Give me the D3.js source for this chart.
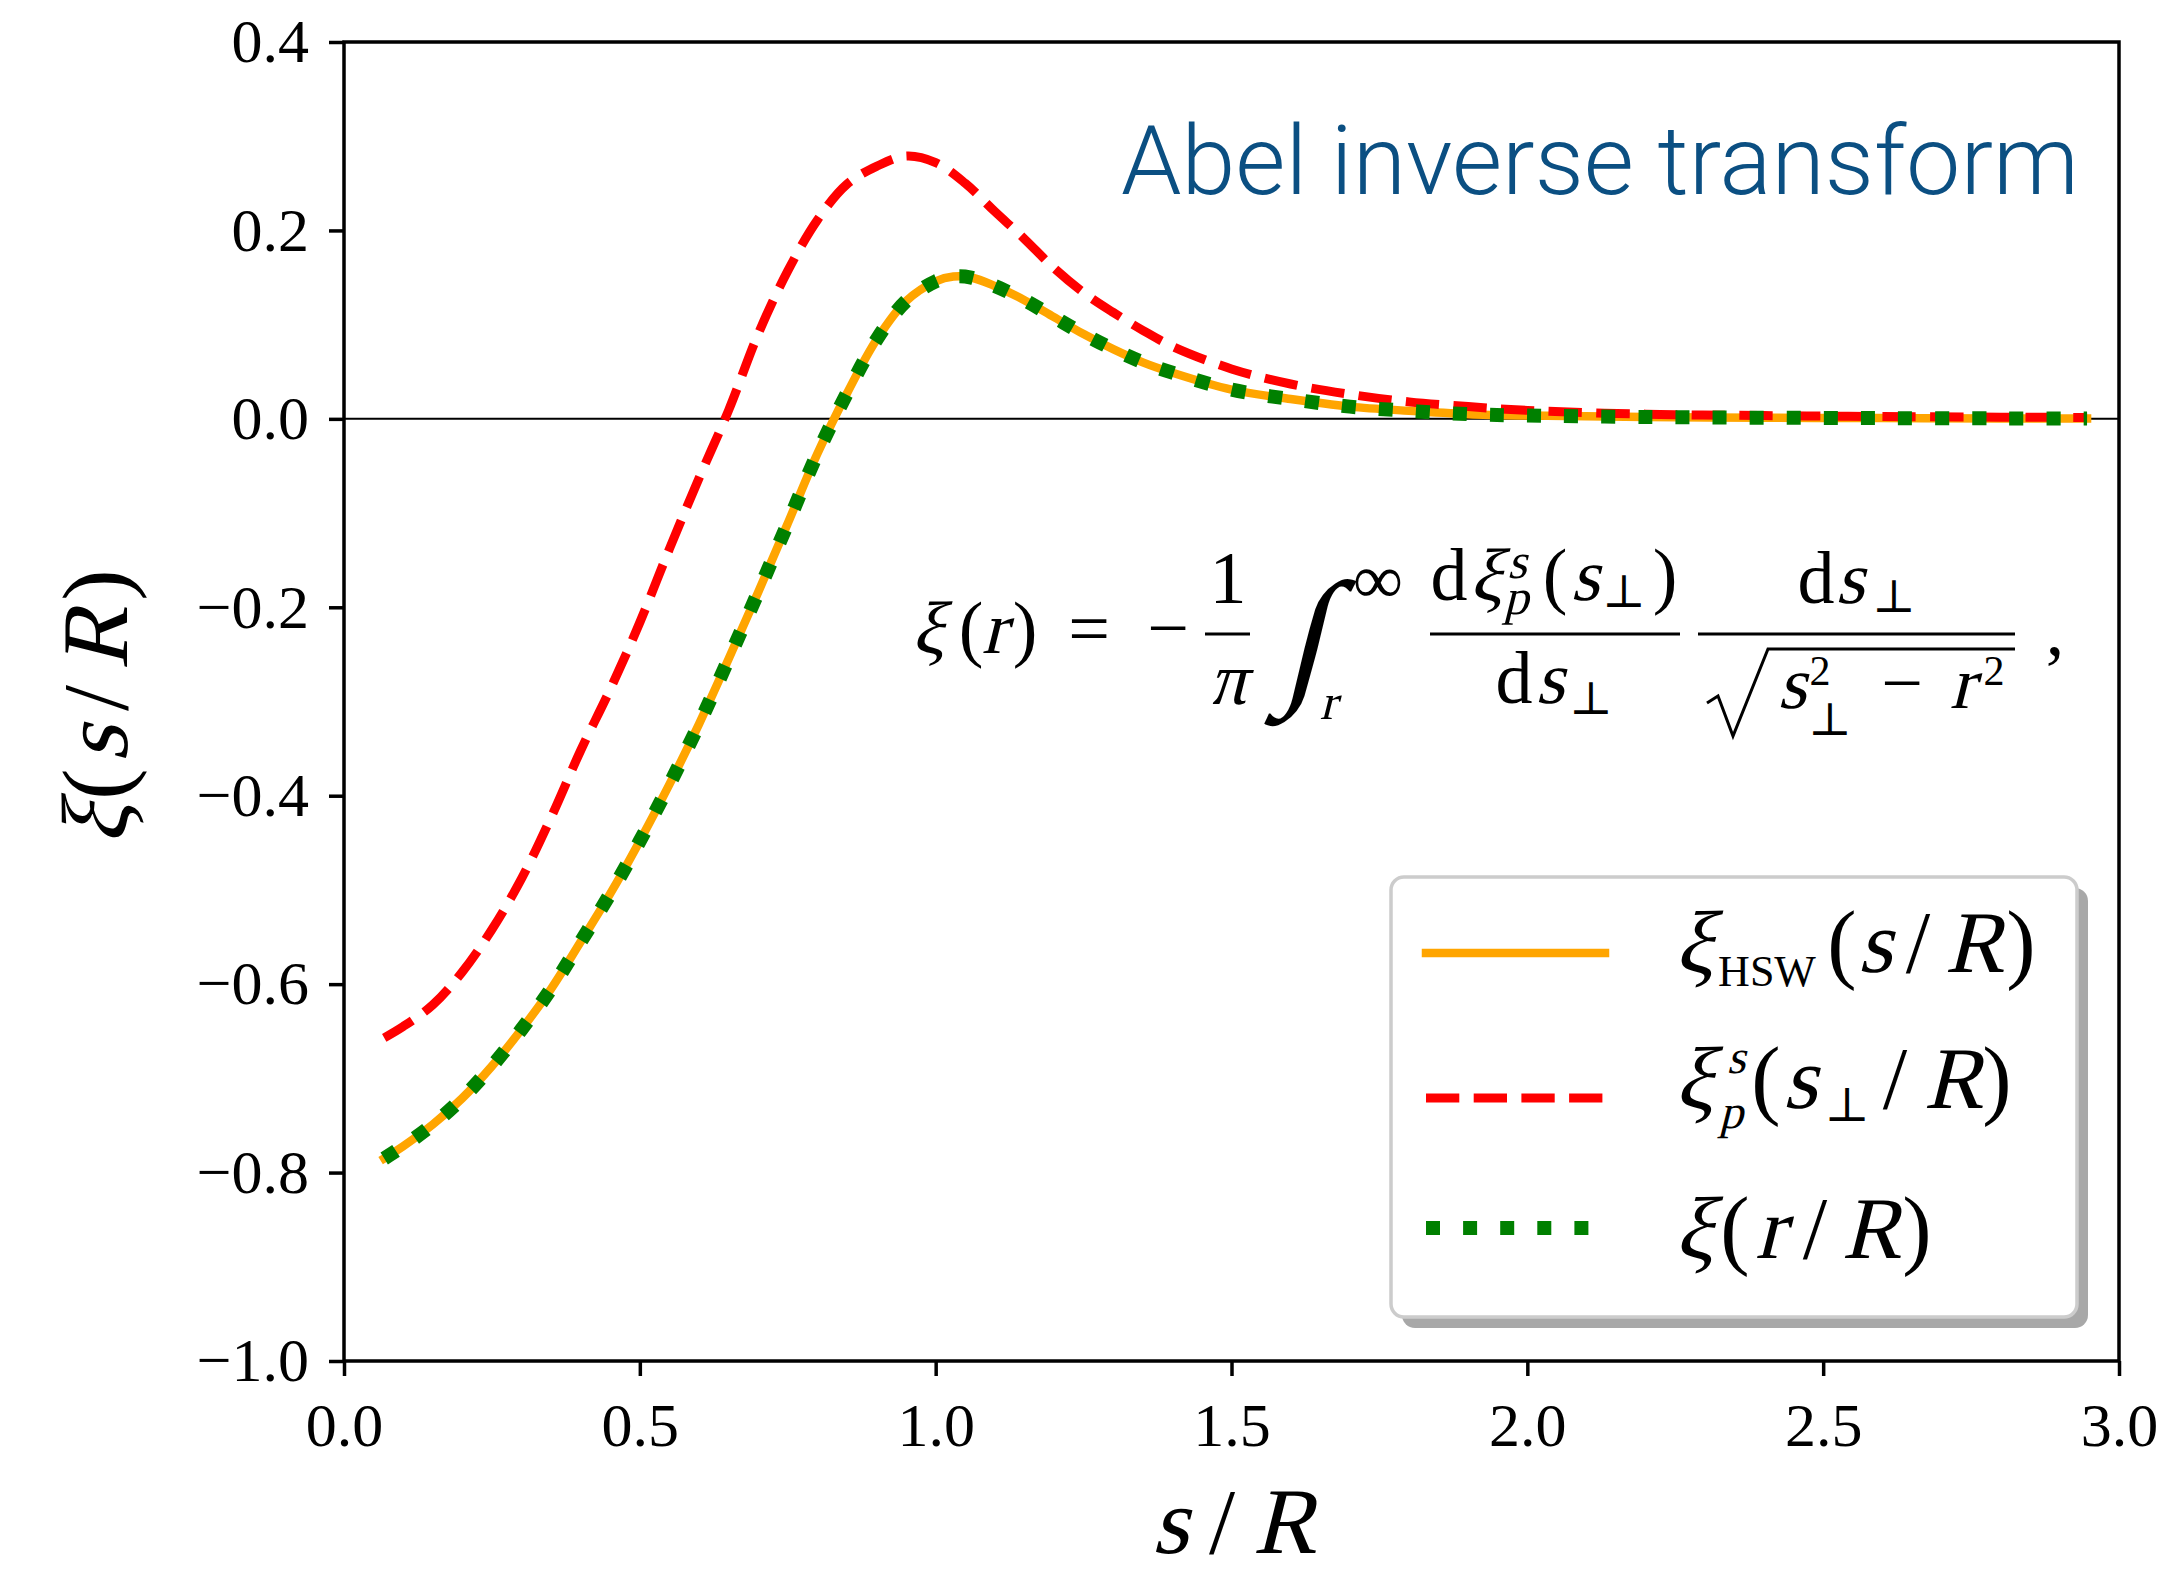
<!DOCTYPE html>
<html>
<head>
<meta charset="utf-8">
<script src="https://cdn.jsdelivr.net/npm/d3@7"></script>
<style>
  body { margin: 0; background: #fff; }
  svg { display: block; }
  .math text { font-family: "Liberation Serif", "DejaVu Serif", serif; fill: #000; text-anchor: middle; }
  .tick text { font-family: "Liberation Serif", serif; font-size: 62px; fill: #000; }
</style>
</head>
<body>
<script>
// xi_HSW(s/R)
const sHSW = [0.068, 0.10, 0.15, 0.20, 0.25, 0.30, 0.35, 0.40, 0.45, 0.50, 0.55, 0.60, 0.65, 0.70,
  0.75, 0.80, 0.85, 0.90, 0.95, 1.00, 1.03, 1.06, 1.10, 1.15, 1.20, 1.25, 1.30, 1.35, 1.40, 1.50,
  1.60, 1.70, 1.80, 1.90, 2.00, 2.20, 2.40, 2.60, 2.80, 2.946];
const xiHSW = [-0.785, -0.772, -0.749, -0.721, -0.687, -0.648, -0.605, -0.555, -0.504, -0.448,
  -0.388, -0.324, -0.255, -0.184, -0.111, -0.037, 0.027, 0.084, 0.125, 0.146, 0.151, 0.150, 0.141,
  0.126, 0.108, 0.090, 0.074, 0.060, 0.049, 0.031, 0.021, 0.013, 0.0085, 0.005, 0.0035, 0.002,
  0.0012, 0.0008, 0.0005, 0.0004];

// projected xi_p^s(s_perp/R), red dashed
const sProj = [0.068, 0.10, 0.15, 0.20, 0.25, 0.30, 0.35, 0.40, 0.45, 0.50, 0.55, 0.60, 0.65, 0.70,
  0.75, 0.80, 0.85, 0.90, 0.95, 1.00, 1.05, 1.10, 1.15, 1.20, 1.25, 1.30, 1.35, 1.40, 1.50, 1.60,
  1.70, 1.80, 1.90, 2.00, 2.20, 2.40, 2.60, 2.80, 2.946];
const xiProj = [-0.657, -0.645, -0.622, -0.587, -0.542, -0.488, -0.423, -0.352, -0.287, -0.216,
  -0.138, -0.063, 0.009, 0.090, 0.157, 0.211, 0.249, 0.268, 0.279, 0.272, 0.250, 0.220, 0.191,
  0.160, 0.134, 0.113, 0.094, 0.077, 0.053, 0.037, 0.026, 0.018, 0.013, 0.009, 0.005, 0.0035,
  0.0025, 0.0018, 0.0015];

// Abel-inverted xi(r/R), green dotted
const sAbel = [0.068, 0.10, 0.15, 0.20, 0.25, 0.30, 0.35, 0.40, 0.45, 0.50, 0.55, 0.60, 0.65, 0.70,
  0.75, 0.80, 0.85, 0.90, 0.95, 1.00, 1.03, 1.06, 1.10, 1.15, 1.20, 1.25, 1.30, 1.35, 1.40, 1.50,
  1.60, 1.70, 1.80, 1.90, 2.00, 2.20, 2.40, 2.60, 2.80, 2.946];
const xiAbel = [-0.785, -0.772, -0.749, -0.721, -0.687, -0.648, -0.605, -0.555, -0.504, -0.448,
  -0.388, -0.324, -0.255, -0.184, -0.111, -0.037, 0.027, 0.084, 0.125, 0.146, 0.151, 0.150, 0.141,
  0.126, 0.108, 0.090, 0.074, 0.060, 0.049, 0.031, 0.021, 0.013, 0.0085, 0.005, 0.0035, 0.002,
  0.0012, 0.0008, 0.0005, 0.0004];

const xTicks = [0, 0.5, 1.0, 1.5, 2.0, 2.5, 3.0];
const yTicks = [-1.0, -0.8, -0.6, -0.4, -0.2, 0.0, 0.2, 0.4];

(function() {
  'use strict';

  const w = 2176;
  const h = 1574;
  const left = 344, right = 2119, top = 42, bottom = 1361;

  const xScale = d3.scaleLinear().domain([0, 3]).range([left, right]);
  const yScale = d3.scaleLinear().domain([-1, 0.4]).range([bottom, top]);

  const svg = d3.select('body').append('svg')
    .attr('width', w)
    .attr('height', h);

  svg.append('rect').attr('width', w).attr('height', h).attr('fill', '#fff');

  // zero line
  svg.append('line')
    .attr('x1', left).attr('x2', right)
    .attr('y1', yScale(0)).attr('y2', yScale(0))
    .attr('stroke', '#000').attr('stroke-width', 2);

  const line = d3.line()
    .x((d) => xScale(d[0]))
    .y((d) => yScale(d[1]))
    .curve(d3.curveCatmullRom.alpha(0.5));

  const series = [
    {s: sHSW, v: xiHSW, color: 'orange', width: 8.5, dash: null, cap: 'square'},
    {s: sProj, v: xiProj, color: '#ff0000', width: 9, dash: '33.3,14.4', cap: 'butt'},
    {s: sAbel, v: xiAbel, color: 'green', width: 14, dash: '14,23.1', cap: 'butt'}
  ];

  series.forEach((ser) => {
    const pts = ser.s.map((s, i) => [s, ser.v[i]]);
    svg.append('path')
      .datum(pts)
      .attr('d', line)
      .attr('fill', 'none')
      .attr('stroke', ser.color)
      .attr('stroke-width', ser.width)
      .attr('stroke-linecap', ser.cap)
      .attr('stroke-dasharray', ser.dash);
  });

  // axes
  const fmt = d3.format('.1f');
  const xAxis = svg.append('g')
    .attr('transform', 'translate(0,' + bottom + ')')
    .call(d3.axisBottom(xScale).tickValues(xTicks).tickSize(15).tickPadding(26).tickFormat(fmt));
  const yAxis = svg.append('g')
    .attr('transform', 'translate(' + left + ',0)')
    .call(d3.axisLeft(yScale).tickValues(yTicks).tickSize(15).tickPadding(20).tickFormat(fmt));
  [xAxis, yAxis].forEach((a) => {
    a.select('.domain').remove();
    a.selectAll('.tick line').attr('stroke', '#000').attr('stroke-width', 3.5);
    a.attr('font-family', null).attr('font-size', null);
  });

  svg.append('rect')
    .attr('x', left).attr('y', top)
    .attr('width', right - left).attr('height', bottom - top)
    .attr('fill', 'none').attr('stroke', '#000').attr('stroke-width', 3.5);

  const math = svg.append('g').attr('class', 'math');

  // p = [text, centre x, baseline y (null = row baseline), size (null = row size), 'i' for italic]
  // italics are slanted upright serif glyphs, so no sans fallback sneaks in
  function put(g, p, size, baseY) {
    const y = p[2] == null ? baseY : p[2];
    const t = g.append('text')
      .attr('font-size', p[3] || size)
      .text(p[0]);
    if (p[4] === 'i') {
      t.attr('transform', 'translate(' + p[1] + ',' + y + ') skewX(-14)');
    } else {
      t.attr('x', p[1]).attr('y', y);
    }
  }

  // axis labels
  const xl = math.append('g');
  [['s', 1170, null, null, 'i'], ['/', 1222], ['R', 1284, null, null, 'i']]
    .forEach((p) => put(xl, p, 94, 1553));

  const yl = math.append('g').attr('transform', 'translate(127,844) rotate(-90)');
  [['ξ', 20, null, null, 'i'], ['(', 60], ['s', 100, null, null, 'i'], ['/', 146],
    ['R', 205, null, null, 'i'], [')', 259]]
    .forEach((p) => put(yl, p, 94, 0));

  // title
  svg.append('text')
    .attr('x', 1121).attr('y', 194)
    .attr('font-family', 'Roboto, "Liberation Sans", sans-serif')
    .attr('font-weight', 300)
    .attr('font-size', 96)
    .attr('textLength', 958)
    .attr('lengthAdjust', 'spacingAndGlyphs')
    .attr('fill', '#0b4f82')
    .text('Abel inverse transform');

  // formula
  const fm = math.append('g');
  [
    ['ξ', 928, null, null, 'i'], ['(', 971], ['r', 994, null, null, 'i'], [')', 1025],
    ['=', 1089], ['−', 1168],
    ['1', 1228, 603], ['π', 1228, 704, null, 'i'],
    ['∫', 1302, 686, 150, 'i'], ['∞', 1378, 603, 70], ['r', 1328, 719, 50, 'i'],
    ['d', 1449, 600], ['ξ', 1486, 600, null, 'i'], ['s', 1517, 578, 50, 'i'], ['p', 1516, 614, 50, 'i'],
    ['(', 1555, 600], ['s', 1585, 600, null, 'i'], ['⊥', 1624, 607, 46], [')', 1665, 600],
    ['d', 1514, 703], ['s', 1550, 703, null, 'i'], ['⊥', 1591, 714, 46],
    ['d', 1816, 603], ['s', 1850, 603, null, 'i'], ['⊥', 1894, 612, 46],
    ['s', 1792, 708, null, 'i'], ['2', 1820, 685, 42], ['⊥', 1830, 735, 46],
    ['−', 1902, 708], ['r', 1962, 708, null, 'i'], ['2', 1994, 685, 42],
    [',', 2055, 655]
  ].forEach((p) => put(fm, p, 74, 653));

  [[1205, 1250], [1430, 1680], [1698, 2015]].forEach((b) => {
    fm.append('line').attr('x1', b[0]).attr('x2', b[1]).attr('y1', 634).attr('y2', 634)
      .attr('stroke', '#000').attr('stroke-width', 3);
  });
  fm.append('path')
    .attr('d', 'M1707,703 L1718,696 L1733,736 L1768,649 L2015,649')
    .attr('fill', 'none').attr('stroke', '#000').attr('stroke-width', 3)
    .attr('stroke-linejoin', 'miter');

  // legend
  const lg = svg.append('g');
  lg.append('rect')
    .attr('x', 1402).attr('y', 888).attr('width', 686).attr('height', 440).attr('rx', 13)
    .attr('fill', '#a8a8a8');
  lg.append('rect')
    .attr('x', 1391).attr('y', 877).attr('width', 686).attr('height', 440).attr('rx', 13)
    .attr('fill', '#fff').attr('stroke', '#cccccc').attr('stroke-width', 3.5);

  const rows = [953, 1098, 1228];
  series.forEach((ser, i) => {
    lg.append('line')
      .attr('x1', 1426).attr('x2', 1605)
      .attr('y1', rows[i]).attr('y2', rows[i])
      .attr('stroke', ser.color)
      .attr('stroke-width', ser.width)
      .attr('stroke-linecap', ser.cap)
      .attr('stroke-dasharray', ser.dash);
  });

  const lt = lg.append('g').attr('class', 'math');
  [['ξ', 1694, null, null, 'i'], ['HSW', 1767, 986, 44], ['(', 1842], ['s', 1875, null, null, 'i'],
    ['/', 1918], ['R', 1974, null, null, 'i'], [')', 2021]]
    .forEach((p) => put(lt, p, 88, 972));
  [['ξ', 1694, null, null, 'i'], ['s', 1736, 1073, 48, 'i'], ['p', 1731, 1128, 48, 'i'],
    ['(', 1766], ['s', 1800, null, null, 'i'], ['⊥', 1847, 1121, 48], ['/', 1895],
    ['R', 1953, null, null, 'i'], [')', 1997]]
    .forEach((p) => put(lt, p, 88, 1108));
  [['ξ', 1694, null, null, 'i'], ['(', 1735], ['r', 1770, null, null, 'i'], ['/', 1815],
    ['R', 1871, null, null, 'i'], [')', 1917]]
    .forEach((p) => put(lt, p, 88, 1258));
}());
</script>
</body>
</html>
